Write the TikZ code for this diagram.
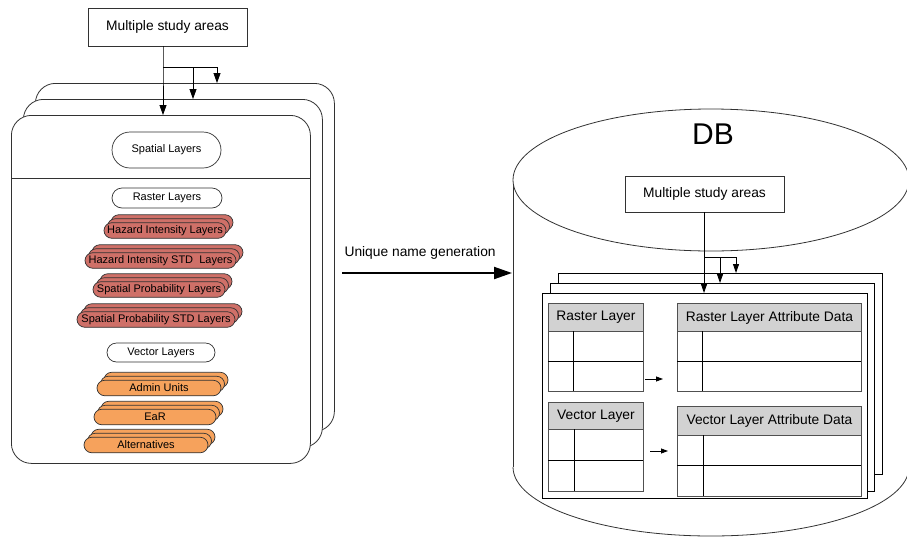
\documentclass[tikz,border=0pt]{standalone}
\usepackage{fontspec}
\setmainfont{Liberation Sans}
\usetikzlibrary{arrows.meta,shapes.misc}
\definecolor{ln}{RGB}{50,50,50}
\definecolor{tln}{RGB}{80,80,80}
\definecolor{redfill}{RGB}{207,112,104}
\definecolor{orfill}{RGB}{246,162,92}
\definecolor{hdr}{RGB}{210,210,210}
\newcommand{\pstack}[6]{%
 \node[pill, fill=#5, minimum width=#4pt] (#1b) at (#2+7,#3-8) {};
 \node[pill, fill=#5, minimum width=#4pt] (#1a) at (#2+3.5,#3-4) {};
 \node[pill, fill=#5, minimum width=#4pt] (#1) at (#2,#3) {#6};}
\begin{document}
\begin{tikzpicture}[x=1pt,y=-1pt,
  big/.style={font=\fontsize{13.8}{16}\selectfont},
  small/.style={font=\fontsize{11}{13}\selectfont},
  card/.style={draw=ln, line width=0.8pt, fill=white, rounded corners=20pt, anchor=north west, inner sep=0pt},
  pill/.style={rounded rectangle, draw=ln, line width=0.7pt, minimum height=15.5pt, inner sep=0pt, small},
  wpill/.style={rounded rectangle, draw=ln, line width=0.7pt, fill=white, inner sep=0pt, small},
  sbox/.style={draw=ln, line width=0.8pt, fill=white, inner sep=0pt, big},
  sheet/.style={draw=black, line width=0.8pt, fill=white, anchor=north west, inner sep=0pt},
  hbox/.style={draw=tln, line width=0.9pt, fill=hdr, anchor=north west, inner sep=0pt, big},
  arr/.style={draw=black, line width=0.8pt, -{Triangle[length=10pt,width=7pt]}},
  sarr/.style={draw=black, line width=0.8pt, -{Triangle[length=9pt,width=6pt]}},
  tarr/.style={draw=black, line width=0.8pt, -{Triangle[length=7pt,width=5pt]}},
]
\useasboundingbox (0,0) rectangle (907,536);
\clip (0,0) rectangle (907,536);

% ---------- left: cards ----------
\node[card, minimum width=299pt, minimum height=348pt] (back) at (35,83) {};
\node[card, minimum width=299pt, minimum height=348pt] (mid) at (23,99) {};
\node[card, minimum width=299pt, minimum height=348pt] (front) at (11,115) {};
\draw[draw=ln, line width=0.8pt] (front.west |- 0,178) -- (front.east |- 0,178);

\node[sbox, minimum width=159pt, minimum height=38pt] (msa) at (167.5,27) {Multiple study areas};
\coordinate (j1) at (163,67);
\coordinate (j2) at (193,67);
\coordinate (j3) at (217,67);
\draw[arr] (msa.south -| j1) -- (j1) -- (j1 |- front.north);
\draw[draw=black, line width=0.8pt] (j1) -- (j3);
\draw[arr] (j2) -- (j2 |- mid.north);
\draw[arr] (j3) -- (j3 |- back.north);

\node[wpill, minimum width=109pt, minimum height=36pt] (spl) at (166.5,150) {Spatial Layers};
\node[wpill, minimum width=110pt, minimum height=20pt] (rl) at (167,198) {Raster Layers};
\pstack{hil}{165}{230.5}{122}{redfill}{Hazard Intensity Layers}
\pstack{hisl}{160.5}{260.5}{151}{redfill}{Hazard Intensity STD~ Layers}
\pstack{spl2}{159}{289.5}{132}{redfill}{Spatial Probability Layers}
\pstack{spsl}{156}{319.5}{158}{redfill}{Spatial Probability STD Layers}
\node[wpill, minimum width=108pt, minimum height=19pt] (vl) at (161,352.5) {Vector Layers};
\pstack{au}{159}{388}{124}{orfill}{Admin Units}
\pstack{ear}{155}{417}{122}{orfill}{EaR}
\pstack{alt}{146}{445}{124}{orfill}{Alternatives}

% ---------- middle arrow ----------
\node[big, anchor=west] (ung) at (341,253) {Unique name generation};
\coordinate (ua) at (342,273);
\coordinate (ub) at (512,273);
\draw[line width=2pt, -{Triangle[length=18pt,width=12pt]}] (ua) -- (ub);

% ---------- right: DB cylinder ----------
\draw[draw=ln, line width=0.8pt] (513,180) -- (513,467);
\draw[draw=ln, line width=0.8pt] (909,180) -- (909,467);
\begin{scope}
  \clip (500,467) rectangle (920,560);
  \draw[draw=ln, line width=0.8pt] (711,467) ellipse[x radius=198, y radius=69];
\end{scope}
\draw[draw=ln, line width=0.8pt, fill=white] (711,180) ellipse[x radius=198, y radius=71];
\node[font=\fontsize{30}{34}\selectfont] (db) at (713,134) {DB};

\node[sbox, minimum width=159pt, minimum height=36pt] (msa2) at (704.5,194) {Multiple study areas};

\node[sheet, minimum width=324pt, minimum height=201pt] (sback) at (558,273) {};
\node[sheet, minimum width=324pt, minimum height=208pt] (smid) at (550,283) {};
\node[sheet, minimum width=325pt, minimum height=205pt] (sfront) at (542,293) {};

\coordinate (k1) at (704,257);
\coordinate (k2) at (720,257);
\coordinate (k3) at (736,257);
\draw[sarr] (msa2.south -| k1) -- (k1) -- (k1 |- sfront.north);
\draw[draw=black, line width=0.8pt] (k1) -- (k3);
\draw[sarr] (k2) -- (k2 |- smid.north);
\draw[sarr] (k3) -- (k3 |- sback.north);

% tables
\node[hbox, minimum width=95pt, minimum height=28pt] (rlh) at (548,303) {Raster Layer};
\draw[draw=tln, line width=0.9pt] (548,331) rectangle (643,391);
\draw[draw=black, line width=0.8pt] (548,361) -- (643,361) (573,331) -- (573,391);

\node[hbox, minimum width=184pt, minimum height=28pt] (rah) at (677,303) {Raster Layer Attribute Data};
\draw[draw=tln, line width=0.9pt] (677,331) rectangle (861,391);
\draw[draw=black, line width=0.8pt] (677,361) -- (861,361) (702,331) -- (702,391);

\node[hbox, minimum width=95pt, minimum height=27pt] (vlh) at (548,402) {Vector Layer};
\draw[draw=tln, line width=0.9pt] (548,429) rectangle (643,491);
\draw[draw=black, line width=0.8pt] (548,460) -- (643,460) (574,429) -- (574,491);

\node[hbox, minimum width=184pt, minimum height=29pt] (vah) at (677,406) {Vector Layer Attribute Data};
\draw[draw=tln, line width=0.9pt] (677,435) rectangle (861,496);
\draw[draw=black, line width=0.8pt] (677,465) -- (861,465) (703,435) -- (703,496);

\coordinate (ra1) at (645,379);
\coordinate (ra2) at (663,379);
\coordinate (va1) at (650,451);
\coordinate (va2) at (668,451);
\draw[tarr] (ra1) -- (ra2);
\draw[tarr] (va1) -- (va2);
\end{tikzpicture}
\end{document}
